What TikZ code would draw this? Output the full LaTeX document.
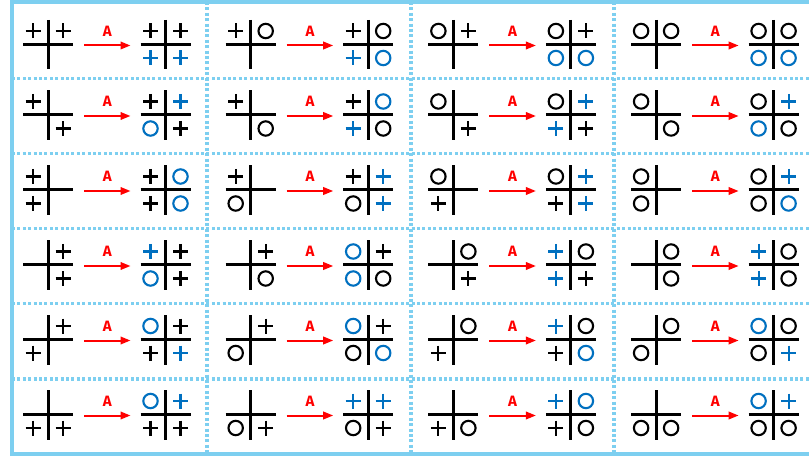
\documentclass[tikz,border=0pt]{standalone}
\usepackage{fontspec}
\newfontfamily\labelfont{Fira Sans}
\usetikzlibrary{arrows.meta}
\definecolor{framec}{RGB}{125,207,240}
\definecolor{symblue}{RGB}{0,112,192}
\definecolor{arrred}{RGB}{255,0,0}
\tikzset{
  gridline/.style={line width=3pt, black},
  symline/.style={line width=2.1pt},
  divider/.style={framec, line width=3.2pt, dash pattern=on 3pt off 2.4pt},
  framebox/.style={framec, line width=4pt},
  arr/.style={arrred, line width=2pt, -{Triangle[length=10pt,width=7.5pt]}},
  alabel/.style={text=arrred, font=\labelfont\bfseries\fontsize{15}{15}\selectfont, inner sep=0pt},
}
\newcommand\mysymp[3]{\begin{scope}[shift={(#1,#2)}]\draw[symline,#3] (-7.5,0)--(7.5,0) (0,-7.5)--(0,7.5);\end{scope}}
\newcommand\mysymo[3]{\draw[symline,#3] (#1,#2) circle[radius=7.2];}
\newcommand\drawsym[3]{%
  \if#1p\mysymp{#2}{#3}{black}\fi
  \if#1o\mysymo{#2}{#3}{black}\fi
  \if#1P\mysymp{#2}{#3}{symblue}\fi
  \if#1O\mysymo{#2}{#3}{symblue}\fi}
\newcommand\gridsyms[6]{%
  \drawsym{#3}{#1-15}{#2-13.5}%
  \drawsym{#4}{#1+15}{#2-13.5}%
  \drawsym{#5}{#1-15}{#2+13.5}%
  \drawsym{#6}{#1+15}{#2+13.5}}
\newcommand\drawcell[4]{%
  \pgfmathsetmacro\lx{48+202.7*#1}%
  \pgfmathsetmacro\rx{\lx+117.5}%
  \pgfmathsetmacro\ly{{44.5,115,190,265,339.5,414.5}[#2]}%
  \coordinate (L-#1-#2) at (\lx,\ly);
  \coordinate (R-#1-#2) at (\rx,\ly);
  \draw[gridline] (\lx-25,\ly) -- (\lx+25,\ly) (\lx,\ly-24.5) -- (\lx,\ly+25);
  \draw[gridline] (\rx-25,\ly) -- (\rx+25,\ly) (\rx,\ly-24.5) -- (\rx,\ly+25);
  \gridsyms{\lx}{\ly}#3%
  \gridsyms{\rx}{\ly}#4%
  \coordinate (as-#1-#2) at (\lx+36,\ly+1);
  \coordinate (ae-#1-#2) at (\lx+82.5,\ly+1);
  \draw[arr] (as-#1-#2) -- node[alabel, above=8pt]{A} (ae-#1-#2);
}
\begin{document}
\begin{tikzpicture}[x=1pt,y=-1pt]
\useasboundingbox (0,0) rectangle (809,457);
\fill[white] (0,0) rectangle (809,457);
% dividers
\foreach \xx in {207,411,614} \draw[divider] (\xx,2) -- (\xx,454);
\foreach \yy in {78.5,153.5,228.5,303.5,379} \draw[divider] (12,\yy) -- (812,\yy);
\draw[framebox] (12,2) rectangle (812,454);
% row 0
\drawcell{0}{0}{ppnn}{ppPP}
\drawcell{1}{0}{ponn}{poPO}
\drawcell{2}{0}{opnn}{opOO}
\drawcell{3}{0}{oonn}{ooOO}
% row 1
\drawcell{0}{1}{pnnp}{pPOp}
\drawcell{1}{1}{pnno}{pOPo}
\drawcell{2}{1}{onnp}{oPPp}
\drawcell{3}{1}{onno}{oPOo}
% row 2
\drawcell{0}{2}{pnpn}{pOpO}
\drawcell{1}{2}{pnon}{pPoP}
\drawcell{2}{2}{onpn}{oPpP}
\drawcell{3}{2}{onon}{oPoO}
% row 3
\drawcell{0}{3}{npnp}{PpOp}
\drawcell{1}{3}{npno}{OpOo}
\drawcell{2}{3}{nonp}{PoPp}
\drawcell{3}{3}{nono}{PoPo}
% row 4
\drawcell{0}{4}{nppn}{OppP}
\drawcell{1}{4}{npon}{OpoO}
\drawcell{2}{4}{nopn}{PopO}
\drawcell{3}{4}{noon}{OooP}
% row 5
\drawcell{0}{5}{nnpp}{OPpp}
\drawcell{1}{5}{nnop}{PPop}
\drawcell{2}{5}{nnpo}{POpo}
\drawcell{3}{5}{nnoo}{OPoo}
\end{tikzpicture}
\end{document}
